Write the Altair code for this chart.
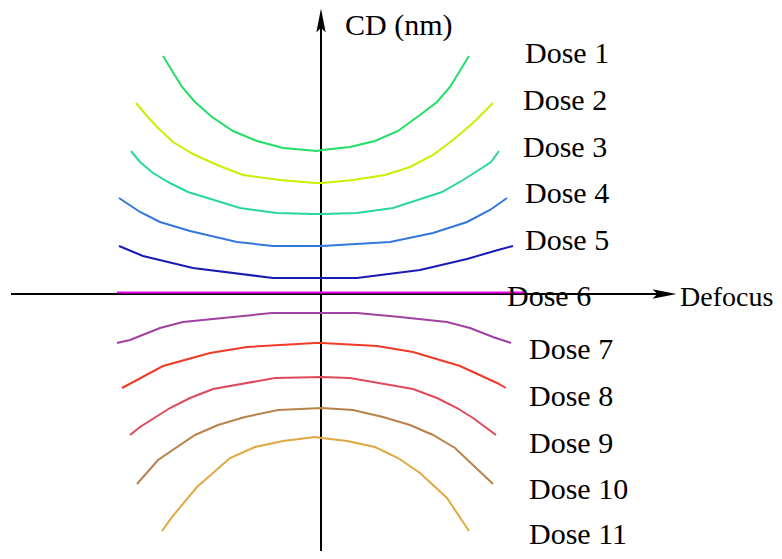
import altair as alt
import pandas as pd

# ---- data (defocus, CD in relative units) ----
DOSES = ["Dose 1", "Dose 2", "Dose 3", "Dose 4", "Dose 5", "Dose 6",
         "Dose 7", "Dose 8", "Dose 9", "Dose 10", "Dose 11"]
COLORS = ["#22dd66", "#c8f000", "#2ad6a0", "#3377dd", "#1a1ab4", "#ee00ee",
          "#a040a0", "#f03a28", "#dd4a5a", "#b8824a", "#e0a840"]

D1_X = [-1.58, -1.39, -1.26, -1.09, -0.88, -0.64, -0.38, -0.04, 0.01, 0.29, 0.54, 0.77, 0.99, 1.16, 1.29, 1.48]
D1_Y = [2.37, 2.06, 1.91, 1.76, 1.62, 1.52, 1.45, 1.42, 1.43, 1.46, 1.52, 1.62, 1.78, 1.91, 2.06, 2.37]
D2_X = [-1.85, -1.74, -1.64, -1.48, -1.28, -1.04, -0.78, -0.41, -0.06, 0.01, 0.32, 0.64, 0.89, 1.12, 1.32, 1.52, 1.72]
D2_Y = [1.90, 1.77, 1.66, 1.51, 1.39, 1.28, 1.18, 1.13, 1.10, 1.10, 1.13, 1.18, 1.26, 1.38, 1.53, 1.70, 1.90]
D3_X = [-1.90, -1.81, -1.68, -1.51, -1.33, -0.81, -0.44, -0.08, 0.01, 0.36, 0.72, 1.21, 1.42, 1.61, 1.70, 1.78]
D3_Y = [1.42, 1.31, 1.20, 1.10, 1.01, 0.85, 0.80, 0.79, 0.79, 0.80, 0.85, 1.01, 1.13, 1.25, 1.31, 1.42]
D4_X = [-2.02, -1.81, -1.61, -1.31, -0.84, -0.48, 0.01, 0.69, 1.12, 1.46, 1.69, 1.86]
D4_Y = [0.95, 0.81, 0.71, 0.62, 0.51, 0.47, 0.47, 0.51, 0.60, 0.71, 0.83, 0.95]
D5_X = [-2.02, -1.78, -1.28, -0.48, 0.01, 0.36, 0.99, 1.46, 1.77, 1.92]
D5_Y = [0.47, 0.37, 0.25, 0.15, 0.15, 0.15, 0.23, 0.34, 0.43, 0.47]
D6_X = [-2.04, 2.04]
D6_Y = [0.005, 0.005]
D7_X = [-2.04, -1.91, -1.61, -1.38, -0.88, -0.49, 0.01, 0.36, 0.79, 1.26, 1.49, 1.72, 1.90]
D7_Y = [-0.50, -0.47, -0.35, -0.29, -0.24, -0.20, -0.20, -0.20, -0.24, -0.29, -0.35, -0.44, -0.50]
D8_X = [-1.99, -1.58, -1.11, -0.74, -0.06, 0.01, 0.56, 0.92, 1.39, 1.76, 1.85]
D8_Y = [-0.95, -0.73, -0.60, -0.54, -0.50, -0.50, -0.53, -0.59, -0.73, -0.90, -0.95]
D9_X = [-1.91, -1.81, -1.51, -1.31, -1.08, -0.46, 0.01, 0.29, 0.92, 1.16, 1.36, 1.52, 1.75]
D9_Y = [-1.42, -1.34, -1.15, -1.05, -0.96, -0.85, -0.84, -0.85, -0.96, -1.05, -1.15, -1.25, -1.42]
D10_X = [-1.84, -1.63, -1.26, -1.03, -0.76, -0.43, 0.01, 0.32, 0.62, 0.89, 1.12, 1.34, 1.72]
D10_Y = [-1.91, -1.67, -1.42, -1.32, -1.24, -1.17, -1.15, -1.17, -1.24, -1.32, -1.42, -1.55, -1.91]
D11_X = [-1.59, -1.49, -1.24, -0.91, -0.66, -0.38, -0.06, 0.01, 0.26, 0.54, 0.77, 0.99, 1.26, 1.36, 1.48]
D11_Y = [-2.38, -2.24, -1.94, -1.65, -1.54, -1.48, -1.44, -1.45, -1.48, -1.54, -1.65, -1.80, -2.05, -2.20, -2.38]

CURVES_X = [D1_X, D2_X, D3_X, D4_X, D5_X, D6_X, D7_X, D8_X, D9_X, D10_X, D11_X]
CURVES_Y = [D1_Y, D2_Y, D3_Y, D4_Y, D5_Y, D6_Y, D7_Y, D8_Y, D9_Y, D10_Y, D11_Y]

# dose label anchor positions (left edge, baseline)
LABEL_X = [2.04, 2.02, 2.02, 2.04, 2.04, 1.86, 2.08, 2.08, 2.08, 2.08, 2.08]
LABEL_Y = [2.30, 1.83, 1.36, 0.90, 0.43, -0.13, -0.66, -1.13, -1.60, -2.06, -2.51]

AXIS_TITLES = ["CD (nm)", "Defocus"]
AXIS_TITLE_X = [0.24, 3.59]
AXIS_TITLE_Y = [2.58, -0.13]
AXIS_TITLE_SIZE = [30, 28]

# axis lines (start/end) and arrowhead centers
AXIS_X1 = [-3.10, 0.0]
AXIS_X2 = [3.40, 0.0]
AXIS_Y1 = [-0.01, -2.58]
AXIS_Y2 = [-0.01, 2.70]
ARROW_RIGHT = (3.435, -0.01)
ARROW_UP = (0.0, 2.725)

X_DOMAIN = [-3.13, 4.53]
Y_DOMAIN = [-2.58, 2.85]

# ---- build tables ----
rows = []
for name, xs, ys in zip(DOSES, CURVES_X, CURVES_Y):
    for i, (x, y) in enumerate(zip(xs, ys)):
        rows.append({"dose": name, "idx": i, "defocus": x, "cd": y})
curves_df = pd.DataFrame(rows)

labels_df = pd.DataFrame({"text": DOSES + AXIS_TITLES,
                          "x": LABEL_X + AXIS_TITLE_X,
                          "y": LABEL_Y + AXIS_TITLE_Y,
                          "size": [30] * len(DOSES) + AXIS_TITLE_SIZE})

axes_df = pd.DataFrame({"x": AXIS_X1, "x2": AXIS_X2, "y": AXIS_Y1, "y2": AXIS_Y2})
arrow_r_df = pd.DataFrame({"x": [ARROW_RIGHT[0]], "y": [ARROW_RIGHT[1]]})
arrow_u_df = pd.DataFrame({"x": [ARROW_UP[0]], "y": [ARROW_UP[1]]})

xs = alt.Scale(domain=X_DOMAIN, nice=False, zero=False)
ys = alt.Scale(domain=Y_DOMAIN, nice=False, zero=False)

curves = alt.Chart(curves_df).mark_line(strokeWidth=2, clip=False).encode(
    x=alt.X("defocus:Q", scale=xs, axis=None),
    y=alt.Y("cd:Q", scale=ys, axis=None),
    color=alt.Color("dose:N", scale=alt.Scale(domain=DOSES, range=COLORS), legend=None),
    detail="dose:N",
    order="idx:Q",
)

axes = alt.Chart(axes_df).mark_rule(color="black", strokeWidth=2).encode(
    x=alt.X("x:Q", scale=xs, axis=None),
    x2="x2:Q",
    y=alt.Y("y:Q", scale=ys, axis=None),
    y2="y2:Q",
)

arrow_r = alt.Chart(arrow_r_df).mark_point(
    shape="M1,0 L-1,-0.39 L-0.6,0 L-1,0.39 Z", filled=True, size=576,
    color="black", opacity=1, strokeWidth=0,
).encode(x=alt.X("x:Q", scale=xs, axis=None), y=alt.Y("y:Q", scale=ys, axis=None))

arrow_u = alt.Chart(arrow_u_df).mark_point(
    shape="M0,-1 L-0.39,1 L0,0.6 L0.39,1 Z", filled=True, size=576,
    color="black", opacity=1, strokeWidth=0,
).encode(x=alt.X("x:Q", scale=xs, axis=None), y=alt.Y("y:Q", scale=ys, axis=None))

labels = alt.Chart(labels_df).mark_text(
    align="left", baseline="alphabetic", font="Liberation Serif", color="black",
).encode(
    x=alt.X("x:Q", scale=xs, axis=None),
    y=alt.Y("y:Q", scale=ys, axis=None),
    text="text:N",
    size=alt.Size("size:Q", scale=None, legend=None),
)

chart = alt.layer(axes, curves, arrow_r, arrow_u, labels).properties(
    width=766, height=543, padding=0, autosize="none",
).configure_view(stroke=None)

chart.save("out.html", embed_options={"renderer": "svg", "actions": False})
